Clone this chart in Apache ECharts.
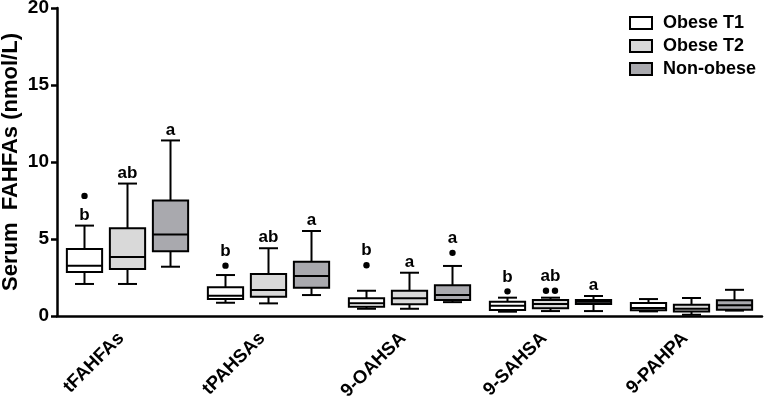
<!DOCTYPE html>
<html>
<head>
<meta charset="utf-8">
<script src="https://cdn.jsdelivr.net/npm/echarts@6/dist/echarts.min.js"></script>
<style>
html,body{margin:0;padding:0;background:#fff;}
#chart{width:765px;height:400px;}
</style>
</head>
<body>
<div id="chart"></div>
<script>
// ---- data ----
const categories = ['tFAHFAs', 'tPAHSAs', '9-OAHSA', '9-SAHSA', '9-PAHPA'];
const groups = ['Obese T1', 'Obese T2', 'Non-obese'];
const yTicks = [0, 5, 10, 15, 20];

// [low whisker, Q1, median, Q3, high whisker]
const obeseT1Box = [
  [2.08, 2.86, 3.27, 4.35, 5.87],
  [0.86, 1.10, 1.32, 1.86, 2.66],
  [0.47, 0.60, 0.82, 1.15, 1.64],
  [0.28, 0.39, 0.67, 0.93, 1.19],
  [0.30, 0.37, 0.52, 0.84, 1.10]
];
const obeseT2Box = [
  [2.08, 3.05, 3.83, 5.70, 8.60],
  [0.82, 1.25, 1.69, 2.73, 4.40],
  [0.47, 0.76, 1.15, 1.64, 2.81],
  [0.32, 0.50, 0.78, 1.04, 1.19],
  [0.08, 0.30, 0.47, 0.73, 1.17]
];
const nonObeseBox = [
  [3.20, 4.20, 5.30, 7.50, 11.40],
  [1.36, 1.84, 2.60, 3.53, 5.52],
  [0.90, 1.04, 1.36, 2.00, 3.25],
  [0.32, 0.78, 0.93, 1.04, 1.30],
  [0.35, 0.41, 0.69, 1.02, 1.70]
];

// outliers per category
const obeseT1Out = [[7.8], [3.27], [3.3], [1.6], []];
const obeseT2Out = [[], [], [], [1.64, 1.64], []];
const nonObeseOut = [[], [], [4.1], [], []];

// significance letters
const obeseT1Letters = ['b', 'b', 'b', 'b', ''];
const obeseT2Letters = ['ab', 'ab', 'a', 'ab', ''];
const nonObeseLetters = ['a', 'a', 'a', 'a', ''];

const fills = ['#ffffff', '#d9d9d9', '#a9a9ae'];
const FONT = '"Liberation Sans", Arial, sans-serif';

function makeRender(boxes, outs, letters, slot, fill) {
  return function (params, api) {
    const i = params.dataIndex;
    const cat = api.value(0);
    const band = api.size([1, 0])[0];
    const cx = api.coord([cat, 0])[0] + (slot - 1) * band * 0.305;
    const w = band * 0.25;
    const capW = w * 0.54;
    const y = k => api.coord([cat, api.value(k)])[1];
    const yLow = y(1), yQ1 = y(2), yMed = y(3), yQ3 = y(4), yHigh = y(5);
    const ls = { stroke: '#000', lineWidth: 2 };
    const children = [
      { type: 'line', shape: { x1: cx, y1: yHigh, x2: cx, y2: yQ3 }, style: ls },
      { type: 'line', shape: { x1: cx, y1: yLow, x2: cx, y2: yQ1 }, style: ls },
      { type: 'line', shape: { x1: cx - capW / 2, y1: yHigh, x2: cx + capW / 2, y2: yHigh }, style: ls },
      { type: 'line', shape: { x1: cx - capW / 2, y1: yLow, x2: cx + capW / 2, y2: yLow }, style: ls },
      { type: 'rect', shape: { x: cx - w / 2, y: yQ3, width: w, height: yQ1 - yQ3 }, style: { fill: fill, stroke: '#000', lineWidth: 2 } },
      { type: 'line', shape: { x1: cx - w / 2, y1: yMed, x2: cx + w / 2, y2: yMed }, style: ls }
    ];
    const o = outs[i] || [];
    const high = boxes[i][4];
    let anchorY = yHigh, gap = 2;
    o.forEach((v, j) => {
      const same = o.filter(u => u === v).length;
      const idx = o.slice(0, j).filter(u => u === v).length;
      const dx = same > 1 ? (idx - (same - 1) / 2) * 9 : 0;
      const oy = api.coord([cat, v])[1];
      children.push({ type: 'circle', shape: { cx: cx + dx, cy: oy, r: 3.2 }, style: { fill: '#000' } });
      if (v - high < 1.8 && oy < anchorY) { anchorY = oy; gap = 6; }
    });
    if (letters[i]) {
      children.push({
        type: 'text', x: cx, y: anchorY - gap,
        style: { text: letters[i], textAlign: 'center', textVerticalAlign: 'bottom', font: 'bold 17px ' + FONT, fill: '#000' }
      });
    }
    return { type: 'group', children: children };
  };
}

function makeSeries(name, boxes, outs, letters, slot) {
  return {
    name: name,
    type: 'custom',
    renderItem: makeRender(boxes, outs, letters, slot, fills[slot]),
    itemStyle: { color: fills[slot], borderColor: '#000', borderWidth: 2 },
    encode: { x: 0, y: [1, 2, 3, 4, 5] },
    data: boxes.map((b, i) => [i].concat(b)),
    clip: false
  };
}

const chart = echarts.init(document.getElementById('chart'));
chart.setOption({
  animation: false,
  backgroundColor: '#fff',
  textStyle: { fontFamily: FONT },
  grid: { left: 57, right: 3, top: 8, bottom: 84, containLabel: false, outerBoundsMode: 'none' },
  legend: {
    data: groups,
    orient: 'vertical',
    left: 624,
    top: 9,
    icon: 'rect',
    itemWidth: 22,
    itemHeight: 12,
    itemGap: 5,
    itemStyle: { borderColor: '#000', borderWidth: 2 },
    textStyle: { fontSize: 18, fontWeight: 'bold', color: '#000', fontFamily: FONT, padding: [0, 0, 0, 6] }
  },
  xAxis: {
    type: 'category',
    data: categories,
    boundaryGap: true,
    axisLine: { lineStyle: { color: '#000', width: 2.5 } },
    axisTick: { alignWithLabel: true, length: 6, lineStyle: { color: '#000', width: 2.5 } },
    axisLabel: { rotate: 45, interval: 0, fontSize: 18.5, fontWeight: 'bold', color: '#000', margin: 13, padding: [0, 9, 0, 0], fontFamily: FONT },
    splitLine: { show: false }
  },
  yAxis: {
    type: 'value',
    min: yTicks[0],
    max: yTicks[yTicks.length - 1],
    interval: yTicks[1] - yTicks[0],
    name: 'Serum  FAHFAs (nmol/L)',
    nameLocation: 'middle',
    nameGap: 35,
    nameMoveOverlap: false,
    nameTextStyle: { fontSize: 22, fontWeight: 'bold', color: '#000', fontFamily: FONT },
    axisLine: { show: true, lineStyle: { color: '#000', width: 2.5 } },
    axisTick: { show: true, length: 6, lineStyle: { color: '#000', width: 2.5 } },
    axisLabel: { fontSize: 19, fontWeight: 'bold', color: '#000', margin: 8, fontFamily: FONT },
    splitLine: { show: false }
  },
  series: [
    makeSeries(groups[0], obeseT1Box, obeseT1Out, obeseT1Letters, 0),
    makeSeries(groups[1], obeseT2Box, obeseT2Out, obeseT2Letters, 1),
    makeSeries(groups[2], nonObeseBox, nonObeseOut, nonObeseLetters, 2)
  ]
});
</script>
</body>
</html>
